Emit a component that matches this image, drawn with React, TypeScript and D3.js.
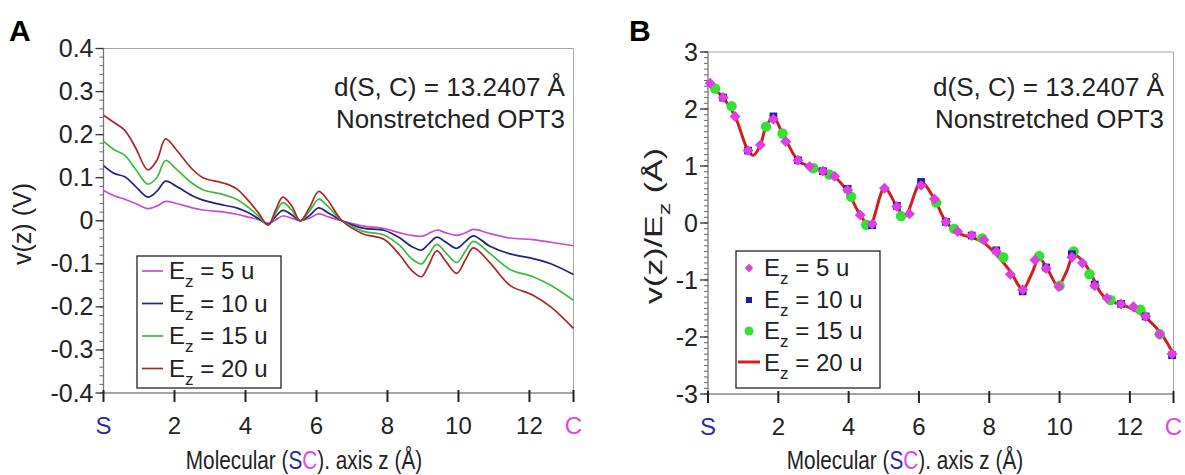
import * as d3 from "d3";

// ---------- data ----------
const zMax = 13.2407;
const xTickVals = [0, 2, 4, 6, 8, 10, 12, zMax];
const xTickLabels = ["S", "2", "4", "6", "8", "10", "12", "C"];
const yTicksA = [-0.4, -0.3, -0.2, -0.1, 0, 0.1, 0.2, 0.3, 0.4];
const yLabelsA = ["-0.4", "-0.3", "-0.2", "-0.1", "0", "0.1", "0.2", "0.3", "0.4"];
const yTicksB = [-3, -2, -1, 0, 1, 2, 3];
const yLabelsB = ["-3", "-2", "-1", "0", "1", "2", "3"];

// panel A: v(z) in V on a shared z grid
const zA = [0, 0.3, 0.6, 0.9, 1.25, 1.5, 1.75, 2.05, 2.5, 2.8, 3.4, 3.75, 4.1, 4.35, 4.64, 4.85, 5.05, 5.3, 5.54, 5.8, 6.06, 6.3, 6.72, 7.3, 7.9, 8.35, 8.68, 8.96, 9.15, 9.39, 9.65, 9.95, 10.2, 10.42, 10.9, 11.45, 12.1, 12.6, 13.24];
const vA5 = [0.07, 0.058, 0.05, 0.04, 0.028, 0.034, 0.045, 0.04, 0.03, 0.025, 0.02, 0.015, 0.008, 0.003, -0.006, 0.002, 0.011, 0.006, 0.0, 0.006, 0.016, 0.01, 0.0, -0.012, -0.018, -0.028, -0.034, -0.036, -0.03, -0.022, -0.028, -0.034, -0.028, -0.02, -0.03, -0.04, -0.044, -0.05, -0.058];
const vA10 = [0.128, 0.11, 0.102, 0.08, 0.055, 0.068, 0.092, 0.08, 0.058, 0.048, 0.036, 0.03, 0.018, 0.006, -0.008, 0.01, 0.024, 0.014, 0.0, 0.012, 0.03, 0.02, 0, -0.017, -0.022, -0.04, -0.06, -0.068, -0.055, -0.038, -0.05, -0.064, -0.048, -0.035, -0.06, -0.077, -0.088, -0.1, -0.125];
const vA15 = [0.185, 0.165, 0.152, 0.12, 0.085, 0.1, 0.14, 0.12, 0.087, 0.072, 0.06, 0.05, 0.03, 0.012, -0.01, 0.018, 0.042, 0.025, 0.0, 0.022, 0.05, 0.035, 0, -0.024, -0.033, -0.058, -0.088, -0.1, -0.08, -0.055, -0.075, -0.097, -0.07, -0.048, -0.077, -0.113, -0.13, -0.15, -0.185];
const vA20 = [0.245, 0.228, 0.21, 0.17, 0.118, 0.14, 0.19, 0.165, 0.12, 0.1, 0.087, 0.074, 0.045, 0.02, -0.01, 0.025, 0.055, 0.035, 0.0, 0.03, 0.068, 0.05, 0, -0.03, -0.043, -0.08, -0.115, -0.13, -0.105, -0.07, -0.095, -0.122, -0.09, -0.063, -0.099, -0.15, -0.173, -0.2, -0.25];

// panel B: v(z)/Ez, line for 20 u and markers for the others
const zB20 = [0, 0.43, 0.77, 1.14, 1.29, 1.49, 1.65, 1.86, 2.12, 2.56, 2.89, 3.27, 3.6, 3.97, 4.33, 4.6, 5.02, 5.37, 5.6, 6.06, 6.44, 6.77, 7.2, 7.55, 7.85, 8.2, 8.6, 8.95, 9.2, 9.42, 9.65, 9.95, 10.2, 10.4, 10.65, 10.9, 11.2, 11.5, 11.85, 12.2, 12.5, 12.9, 13.24];
const vB20 = [2.45, 2.2, 1.87, 1.27, 1.19, 1.37, 1.69, 1.85, 1.57, 1.1, 0.99, 0.91, 0.81, 0.55, 0.14, -0.04, 0.61, 0.29, 0.12, 0.71, 0.42, 0.02, -0.2, -0.26, -0.35, -0.55, -0.85, -1.16, -0.9, -0.62, -0.8, -1.1, -0.85, -0.56, -0.66, -0.9, -1.25, -1.38, -1.45, -1.55, -1.68, -1.95, -2.3];
const zB5 = [0.06, 0.43, 0.77, 1.14, 1.49, 1.86, 2.21, 2.56, 2.89, 3.27, 3.6, 3.97, 4.33, 4.67, 5.02, 5.37, 5.73, 6.06, 6.44, 6.77, 7.1, 7.5, 7.85, 8.2, 8.6, 8.95, 9.3, 9.62, 9.98, 10.35, 10.65, 11.0, 11.35, 11.75, 12.1, 12.45, 12.85, 13.2];
const vB5 = [2.45, 2.2, 1.87, 1.27, 1.37, 1.82, 1.43, 1.1, 0.99, 0.91, 0.82, 0.58, 0.14, -0.02, 0.61, 0.29, 0.16, 0.66, 0.42, 0.02, -0.15, -0.22, -0.3, -0.5, -0.9, -1.17, -0.65, -0.8, -1.12, -0.6, -0.7, -1.1, -1.32, -1.42, -1.47, -1.64, -1.95, -2.3];
const zB10 = [0.43, 1.14, 1.86, 2.56, 3.27, 3.97, 4.67, 5.37, 6.06, 6.77, 7.5, 8.2, 8.95, 9.62, 10.35, 11.0, 11.75, 12.45, 13.2];
const vB10 = [2.2, 1.27, 1.87, 1.1, 0.91, 0.6, -0.04, 0.3, 0.72, 0.02, -0.22, -0.48, -1.2, -0.78, -0.55, -1.08, -1.42, -1.64, -2.32];
const zB15 = [0.2, 0.67, 1.65, 2.12, 3.0, 3.45, 4.07, 4.5, 5.49, 6.49, 7.0, 7.8, 8.4, 9.42, 10.0, 10.4, 10.85, 11.45, 12.3, 12.85];
const vB15 = [2.36, 2.05, 1.69, 1.57, 0.96, 0.85, 0.46, -0.03, 0.12, 0.36, -0.1, -0.27, -0.6, -0.58, -1.1, -0.5, -0.9, -1.35, -1.52, -1.95];

const legendLabels = ["5", "10", "15", "20"];
const colorsA = ["#c84ccc", "#22237e", "#3cba3c", "#a8282a"];
const pink = "#de3ee2";
const navy = "#1c1ca8";
const lime = "#35e035";
const red = "#d0201c";

const font = "'Liberation Sans', Arial, Helvetica, sans-serif";

type Panel = {
  x: d3.ScaleLinear<number, number>;
  y: d3.ScaleLinear<number, number>;
  yTicks: number[];
  yLabels: string[];
  minorStep: number;
};

function Axes({ x, y, yTicks, yLabels, minorStep }: Panel) {
  const [x0, x1] = x.range();
  const [yb, yt] = y.range();
  const [d0, d1] = y.domain();
  const minors = d3.range(Math.round((d1 - d0) / minorStep) + 1).map((i) => d0 + i * minorStep);
  return (
    <g>
      <line x1={x0} x2={x1} y1={yt} y2={yt} stroke="#a8a8a8" />
      <line x1={x1} x2={x1} y1={yt} y2={yb} stroke="#a8a8a8" />
      <line x1={x0} x2={x1} y1={yb} y2={yb} stroke="#888" strokeWidth={1.3} />
      <line x1={x0} x2={x0} y1={yt} y2={yb} stroke="#777" strokeWidth={1.3} />
      {minors.map((m, i) => (
        <line key={"m" + i} x1={x0 - 4} x2={x0} y1={y(m)} y2={y(m)} stroke="#666" />
      ))}
      {yTicks.map((t, i) => (
        <g key={"y" + i}>
          <line x1={x0 - 8} x2={x0} y1={y(t)} y2={y(t)} stroke="#333" strokeWidth={1.3} />
          <text x={x0 - 10} y={y(t) + 8.5} textAnchor="end" fontSize={25} fontFamily={font} fill="#222">
            {yLabels[i]}
          </text>
        </g>
      ))}
      {xTickVals.map((t, i) => (
        <g key={"x" + i}>
          <line x1={x(t)} x2={x(t)} y1={yb - 3} y2={yb + 9} stroke="#222" strokeWidth={2} />
          <text
            x={x(t)}
            y={yb + 41}
            textAnchor="middle"
            fontSize={24}
            fontFamily={font}
            fill={i === 0 ? "#2a2aa8" : i === xTickVals.length - 1 ? "#d84ce0" : "#222"}
          >
            {xTickLabels[i]}
          </text>
        </g>
      ))}
    </g>
  );
}

function XTitle({ cx }: { cx: number }) {
  return (
    <text transform={`translate(${cx},469) scale(0.83,1)`} textAnchor="middle" fontSize={25} fontFamily={font} fill="#222">
      Molecular (<tspan fill="#2a2aa8">S</tspan>
      <tspan fill="#d84ce0">C</tspan>). axis z (Å)
    </text>
  );
}

function Note({ rx }: { rx: number }) {
  return (
    <g fontSize={25} fontFamily={font} fill="#222" textAnchor="end">
      <text x={rx} y={96} textLength={231} lengthAdjust="spacingAndGlyphs">d(S, C) = 13.2407 Å</text>
      <text x={rx} y={128} textLength={229} lengthAdjust="spacingAndGlyphs">Nonstretched OPT3</text>
    </g>
  );
}

function LegendLabel({ x, y, n }: { x: number; y: number; n: string }) {
  return (
    <text x={x} y={y} fontSize={24} fontFamily={font} fill="#222">
      E<tspan dy={8} fontSize={17}>z</tspan>
      <tspan dy={-8}> = {n} u</tspan>
    </text>
  );
}

export default function App() {
  const xA = d3.scaleLinear().domain([0, zMax]).range([103.5, 573.5]);
  const yA = d3.scaleLinear().domain([-0.4, 0.4]).range([393, 48.5]);
  const xB = d3.scaleLinear().domain([0, zMax]).range([708, 1173.5]);
  const yB = d3.scaleLinear().domain([-3, 3]).range([394, 52]);

  const lineA = d3
    .line<number>()
    .x((_, i) => xA(zA[i]))
    .y((d) => yA(d))
    .curve(d3.curveCatmullRom.alpha(0.5));
  const lineB = d3
    .line<number>()
    .x((_, i) => xB(zB20[i]))
    .y((d) => yB(d))
    .curve(d3.curveCatmullRom.alpha(0.5));

  const seriesA = [vA5, vA10, vA15, vA20];
  const diamond = d3.symbol(d3.symbolSquare, 60)()!;
  const square = d3.symbol(d3.symbolSquare, 60)()!;

  return (
    <svg width={1185} height={475} style={{ position: "absolute", left: 0, top: 0, background: "#fff" }}>
      {/* panel A */}
      <text x={9} y={41} fontSize={30} fontWeight="bold" fontFamily={font}>A</text>
      <Axes x={xA} y={yA} yTicks={yTicksA} yLabels={yLabelsA} minorStep={0.02} />
      <text transform="translate(31,224) rotate(-90)" textAnchor="middle" fontSize={25} fontFamily={font} fill="#222" textLength={82} lengthAdjust="spacingAndGlyphs">
        v(z) (V)
      </text>
      <XTitle cx={304} />
      <Note rx={565} />
      {seriesA.map((s, i) => (
        <path key={i} d={lineA(s)!} fill="none" stroke={colorsA[i]} strokeWidth={1.7} />
      ))}
      <rect x={137} y={256} width={144} height={132} fill="#fff" stroke="#222" strokeWidth={1.3} />
      {legendLabels.map((n, i) => (
        <g key={i}>
          <line x1={142} x2={163} y1={271 + i * 32.5} y2={271 + i * 32.5} stroke={colorsA[i]} strokeWidth={1.7} />
          <LegendLabel x={169} y={279 + i * 32.5} n={n} />
        </g>
      ))}

      {/* panel B */}
      <text x={629} y={41} fontSize={30} fontWeight="bold" fontFamily={font}>B</text>
      <Axes x={xB} y={yB} yTicks={yTicksB} yLabels={yLabelsB} minorStep={0.1} />
      <text transform="translate(662,226) rotate(-90)" textAnchor="middle" fontSize={23} fontFamily={font} fill="#222" textLength={156} lengthAdjust="spacingAndGlyphs">
        v(z)/E<tspan dy={8} fontSize={17}>z</tspan>
        <tspan dy={-8}> (Å)</tspan>
      </text>
      <XTitle cx={905} />
      <Note rx={1164} />
      <path d={lineB(vB20)!} fill="none" stroke={red} strokeWidth={3} />
      {zB15.map((z, i) => (
        <circle key={"g" + i} cx={xB(z)} cy={yB(vB15[i])} r={5.2} fill={lime} />
      ))}
      {zB10.map((z, i) => (
        <path key={"b" + i} d={square} transform={`translate(${xB(z)},${yB(vB10[i])})`} fill={navy} />
      ))}
      {zB5.map((z, i) => (
        <path key={"p" + i} d={diamond} transform={`translate(${xB(z)},${yB(vB5[i])}) rotate(45)`} fill={pink} />
      ))}
      <rect x={736} y={251} width={144} height={137} fill="#fff" stroke="#222" strokeWidth={1.3} />
      <path d={d3.symbol(d3.symbolSquare, 36)()!} transform="translate(749,268) rotate(45)" fill={pink} />
      <path d={d3.symbol(d3.symbolSquare, 36)()!} transform="translate(749,300)" fill={navy} />
      <circle cx={749} cy={331} r={4.5} fill={lime} />
      <line x1={738} x2={760} y1={362} y2={362} stroke={red} strokeWidth={3} />
      {legendLabels.map((n, i) => (
        <LegendLabel key={"lb" + i} x={764} y={276 + i * 31.5} n={n} />
      ))}
    </svg>
  );
}
